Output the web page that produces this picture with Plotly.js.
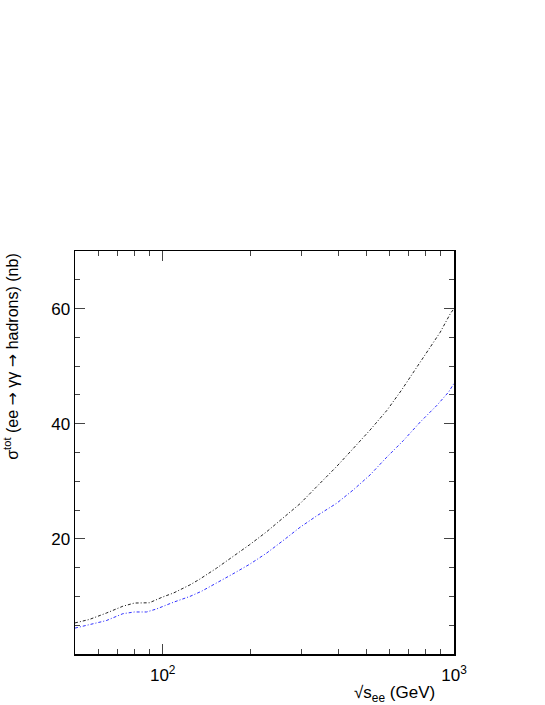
<!DOCTYPE html>
<html>
<head>
<meta charset="utf-8">
<script src="https://cdn.plot.ly/plotly-3.0.1.min.js"></script>
<style>
  body { margin: 0; background: #fff; }
  #chart { width: 545px; height: 705px; }
</style>
</head>
<body>
<div id="chart"></div>
<script>
// sqrt(s_ee) in GeV
const sqrt_s_upper = [50, 56, 64, 73, 80, 90, 100, 109, 124, 134, 153, 174, 199, 227, 259, 296, 346, 396, 451, 515, 588, 662, 727, 829, 897, 971, 1000];
const sigma_upper = [5.4, 6.0, 7.1, 8.3, 8.85, 8.9, 9.9, 10.6, 12.0, 13.0, 14.9, 16.9, 19.0, 21.2, 23.6, 26.1, 29.6, 32.6, 35.7, 38.9, 42.3, 45.9, 49.0, 53.3, 55.9, 59.1, 60.0];

const sqrt_s_lower = [50, 56, 64, 73, 80, 88, 95, 109, 124, 136, 153, 174, 199, 227, 259, 296, 338, 396, 451, 515, 588, 671, 766, 874, 958, 1000];
const sigma_lower = [4.5, 5.1, 5.8, 7.0, 7.3, 7.3, 7.8, 9.0, 10.0, 10.9, 12.3, 13.9, 15.6, 17.5, 19.7, 22.0, 24.0, 26.2, 28.5, 31.1, 34.2, 37.1, 40.3, 43.2, 45.5, 47.0];

const x_tick_vals = [100, 1000];
const x_tick_text = ["10<sup>2</sup>", "10<sup>3</sup>"];
const x_minor_vals = [50, 60, 70, 80, 90, 200, 300, 400, 500, 600, 700, 800, 900];
const y_tick_vals = [20, 40, 60];
const y_minor_vals = [5, 10, 15, 25, 30, 35, 45, 50, 55, 65];

const font_family = "Liberation Sans, Arial, sans-serif";
const arrow = '<span style="font-family:DejaVu Sans">→</span>';

const upper_curve = {
    x: sqrt_s_upper,
    y: sigma_upper,
    mode: "lines",
    type: "scatter",
    line: { color: "#222222", width: 1, dash: "3px,2px,1px,2px" },
    hoverinfo: "skip",
};

const lower_curve = {
    x: sqrt_s_lower,
    y: sigma_lower,
    mode: "lines",
    type: "scatter",
    line: { color: "#3030ff", width: 1, dash: "3px,2px,1px,2px" },
    hoverinfo: "skip",
};

const axis_common = {
    showgrid: false,
    zeroline: false,
    showline: true,
    linecolor: "#000",
    linewidth: 1.5,
    mirror: "ticks",
    ticks: "inside",
    ticklen: 10,
    tickwidth: 1,
    tickcolor: "#444",
    tickfont: { family: font_family, size: 17, color: "#000" },
};

const layout = {
    width: 545,
    height: 705,
    autosize: false,
    showlegend: false,
    paper_bgcolor: "#fff",
    plot_bgcolor: "#fff",
    margin: { l: 75, r: 91, t: 251, b: 51 },
    xaxis: {
        ...axis_common,
        type: "log",
        range: [Math.log10(50), 3],
        tickmode: "array",
        tickvals: x_tick_vals,
        ticktext: x_tick_text,
        ticklabelstandoff: 5,
        minor: { tickmode: "array", tickvals: x_minor_vals, ticks: "inside", ticklen: 5, tickcolor: "#444", tickwidth: 1 },
    },
    yaxis: {
        ...axis_common,
        range: [0, 70],
        tickmode: "array",
        tickvals: y_tick_vals,
        minor: { tickmode: "array", tickvals: y_minor_vals, ticks: "inside", ticklen: 5, tickcolor: "#444", tickwidth: 1 },
    },
    annotations: [
        {
            text: "σ<sup>tot</sup> (ee " + arrow + " γγ " + arrow + " hadrons) (nb)",
            xref: "paper", yref: "paper",
            x: -0.168, y: 1.0,
            xanchor: "center", yanchor: "top",
            textangle: -90,
            showarrow: false,
            font: { family: font_family, size: 16, color: "#000" },
        },
        {
            text: "√s<sub>ee</sub> (GeV)",
            xref: "paper", yref: "paper",
            x: 0.955, y: -0.1,
            xanchor: "right", yanchor: "middle",
            showarrow: false,
            font: { family: font_family, size: 17, color: "#000" },
        },
    ],
};

Plotly.newPlot("chart", [upper_curve, lower_curve], layout, { staticPlot: true });
</script>
</body>
</html>
